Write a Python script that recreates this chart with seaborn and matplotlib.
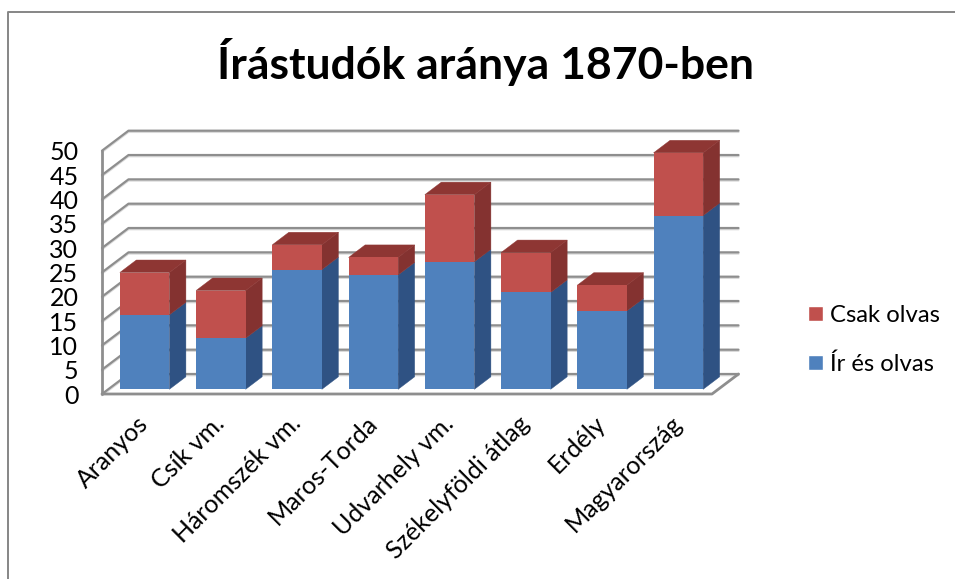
import matplotlib
matplotlib.use('Agg')
import matplotlib.pyplot as plt
import seaborn as sns
from matplotlib.lines import Line2D
from matplotlib.patches import Patch, Polygon
from matplotlib.transforms import ScaledTranslation

categories = ['Aranyos', 'Csík vm.', 'Háromszék vm.', 'Maros-Torda', 'Udvarhely vm.',
              'Székelyföldi átlag', 'Erdély', 'Magyarország']
ir_es_olvas = [15.3, 10.5, 24.6, 23.5, 26.2, 19.9, 16.1, 35.7]
csak_olvas = [8.7, 9.8, 5.1, 3.6, 13.8, 8.2, 5.3, 12.9]
y_ticks = [0, 5, 10, 15, 20, 25, 30, 35, 40, 45, 50]

W, H = 955, 579
BLUE, BLUE_SIDE = '#4F81BD', '#2F5283'
RED, RED_SIDE, RED_TOP = '#C0504D', '#843230', '#8E3633'
GRID = '#8E8E8E'

sns.set_theme(style='white')
plt.rcParams['font.family'] = ['Lato', 'DejaVu Sans']


def box(left, right, top, bottom):
    # pixel box to figure fractions
    return [left / W, 1 - bottom / H, (right - left) / W, (bottom - top) / H]


fig = plt.figure(figsize=(W / 100, H / 100), dpi=100, facecolor='white')
wall = fig.add_axes(box(102, 712, 150.7, 394))
ax = fig.add_axes(box(106.5, 716.5, 146, 389.3), zorder=2)

# back wall, floor and grid
unit_x = 610 / 8
unit_y = 243.3 / 50
wall_dx = 26.5 / unit_x
wall_dy = 20 / unit_y
for t in y_ticks:
    xs = [-0.5, -0.5 + wall_dx, 7.5 + wall_dx]
    ys = [t, t + wall_dy, t + wall_dy]
    wall.plot(xs, [y - 0.25 for y in ys], color='#DADADA', lw=1.6, clip_on=False, zorder=1)
    wall.plot(xs, ys, color=GRID, lw=1.6, clip_on=False, zorder=2, solid_capstyle='round')
wall.plot([-0.5, 7.5, 7.5 + wall_dx], [0, 0, wall_dy], color=GRID, lw=2, clip_on=False, zorder=3)
wall.plot([-0.5, -0.5], [0, 50], color=GRID, lw=2, clip_on=False, zorder=3)
wall.set_xlim(-0.5, 7.5)
wall.set_ylim(0, 50)
wall.set_xticks([])
wall.set_yticks(y_ticks)
wall.tick_params(axis='y', length=0, pad=17, labelsize=18, labelcolor='black')
sns.despine(ax=wall, left=True, bottom=True)

# bars
sns.barplot(x=categories, y=ir_es_olvas, color=BLUE, saturation=1, width=0.65, ax=ax, zorder=3,
            linewidth=0, edgecolor='none')
sns.barplot(x=categories, y=csak_olvas, bottom=ir_es_olvas, color=RED, saturation=1, width=0.65,
            ax=ax, zorder=3, linewidth=0, edgecolor='none')
ax.set_xlim(-0.5, 7.5)
ax.set_ylim(0, 50)
ax.patch.set_alpha(0)
ax.set_yticks([])
ax.set_ylabel('')
sns.despine(ax=ax, left=True, bottom=True)

# depth of the bars
bar_dx = 16.5 / unit_x
bar_dy = 12.5 / unit_y
n = len(categories)
for i, p in enumerate(ax.patches):
    x1 = p.get_x() + p.get_width()
    y0 = p.get_y()
    y1 = y0 + p.get_height()
    side = BLUE_SIDE if i < n else RED_SIDE
    ax.add_patch(Polygon([(x1, y0), (x1 + bar_dx, y0 + bar_dy), (x1 + bar_dx, y1 + bar_dy), (x1, y1)],
                         closed=True, fc=side, ec=side, lw=0.3, clip_on=False, zorder=2))
    if i >= n:
        x0 = p.get_x()
        ax.add_patch(Polygon([(x0, y1), (x0 + bar_dx, y1 + bar_dy), (x1 + bar_dx, y1 + bar_dy), (x1, y1)],
                             closed=True, fc=RED_TOP, ec=RED_TOP, lw=0.3, clip_on=False, zorder=2))

ax.tick_params(axis='x', length=0, pad=16, labelsize=18, labelcolor='black')
shift = ScaledTranslation(-8 / 100, 0, fig.dpi_scale_trans)
for lab in ax.get_xticklabels():
    lab.set_rotation(45)
    lab.set_ha('right')
    lab.set_rotation_mode('anchor')
    lab.set_transform(lab.get_transform() + shift)

fig.text(485.5 / W, 1 - 62 / H, 'Írástudók aránya 1870-ben', fontsize=32, fontweight='bold',
         color='black', ha='center', va='center')

handles = [Patch(fc=RED, label='Csak olvas'), Patch(fc=BLUE, label='Ír és olvas')]
fig.legend(handles=handles, loc='center left', bbox_to_anchor=(808 / W, 1 - 340 / H), frameon=False,
           fontsize=17.2, handlelength=0.63, handleheight=0.63, handletextpad=0.3, labelspacing=1.15,
           borderpad=0, borderaxespad=0, labelcolor='black')

# chart area border, cropped at right and bottom
fig.add_artist(Line2D([7.5 / W, 7.5 / W, 1], [0, 1 - 11.5 / H, 1 - 11.5 / H], color='#868686', lw=1.4))

fig.savefig('out.png', dpi=100)
